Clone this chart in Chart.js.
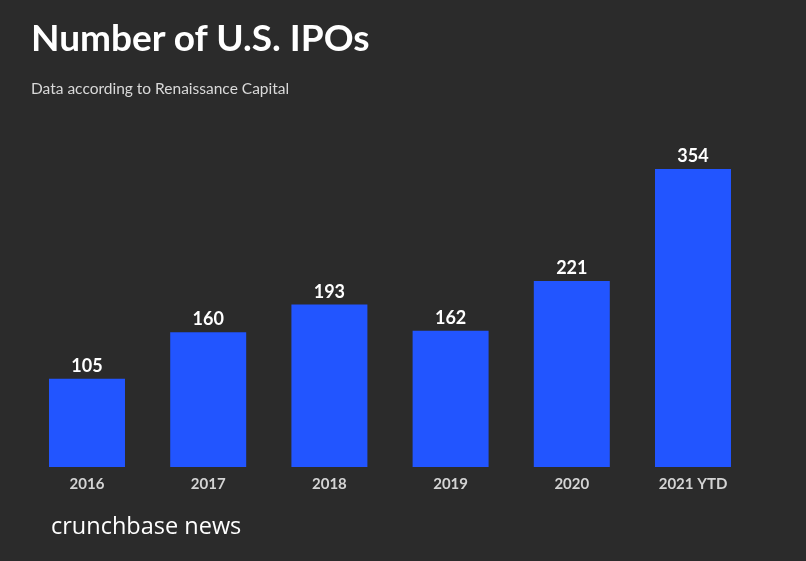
<!DOCTYPE html>
<html>
<head>
<meta charset="utf-8">
<script src="https://cdn.jsdelivr.net/npm/chart.js@4.4.1/dist/chart.umd.min.js"></script>
<style>
    html, body { margin: 0; padding: 0; background: #2b2b2b; }
    #wrap { position: relative; width: 806px; height: 561px; background: #2b2b2b; overflow: hidden; }
    #chart { position: absolute; left: 0; top: 0; }
    .txt { position: absolute; white-space: nowrap; line-height: 1; }
    #title { left: 31px; top: 14px; font: 700 37px Lato, sans-serif; color: #ffffff; }
    #subtitle { left: 31px; top: 79px; font: 400 15.5px Lato, sans-serif; color: #d9d9d9; }
    #brand { left: 51px; top: 509px; font: 400 23.5px "Open Sans", sans-serif; color: #ffffff; }
</style>
</head>
<body>
<div id="wrap">
    <canvas id="chart" width="806" height="561"></canvas>
    <div id="title" class="txt">Number of U.S. IPOs</div>
    <div id="subtitle" class="txt">Data according to Renaissance Capital</div>
    <div id="brand" class="txt">crunchbase news</div>
</div>
<script>
// --- DATA ---
const years = ['2016', '2017', '2018', '2019', '2020', '2021 YTD'];
const ipoCounts = [105, 160, 193, 162, 221, 354];

// Value labels above each bar
const valueLabels = {
    id: 'valueLabels',
    afterDatasetsDraw(chart) {
        const { ctx } = chart;
        const meta = chart.getDatasetMeta(0);
        ctx.save();
        ctx.fillStyle = '#ffffff';
        ctx.font = '700 18px Lato, sans-serif';
        ctx.textAlign = 'center';
        ctx.textBaseline = 'alphabetic';
        meta.data.forEach((bar, i) => {
            ctx.fillText(String(ipoCounts[i]), bar.x, bar.y - 7);
        });
        ctx.restore();
    }
};

new Chart(document.getElementById('chart'), {
    type: 'bar',
    data: {
        labels: years,
        datasets: [{
            data: ipoCounts,
            backgroundColor: '#2255ff',
            borderWidth: 0,
            categoryPercentage: 1,
            barPercentage: 0.627
        }]
    },
    options: {
        responsive: false,
        animation: false,
        layout: { padding: { top: 130.4, left: 26.4, right: 52.4, bottom: 60 } },
        plugins: {
            legend: { display: false },
            tooltip: { enabled: false }
        },
        scales: {
            x: {
                grid: { display: false, drawTicks: false },
                border: { display: false },
                ticks: {
                    color: '#d4d4d4',
                    padding: 8,
                    font: { family: 'Lato', size: 15, weight: '700' }
                }
            },
            y: {
                display: false,
                min: 0,
                max: 400
            }
        }
    },
    plugins: [valueLabels]
});
</script>
</body>
</html>
